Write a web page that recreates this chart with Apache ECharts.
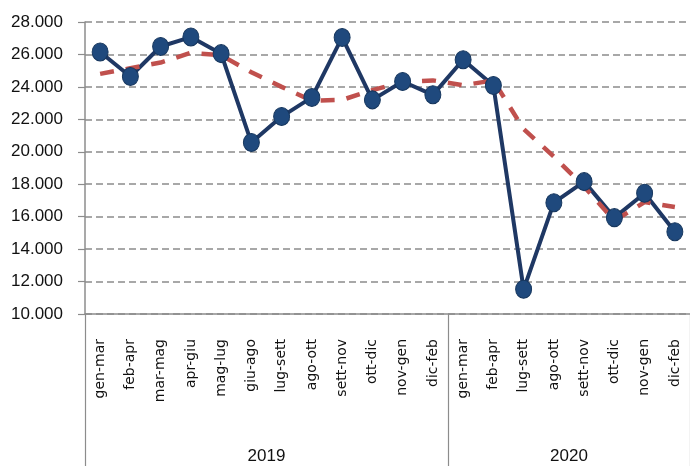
<!DOCTYPE html>
<html>
<head>
<meta charset="utf-8">
<script src="https://cdn.jsdelivr.net/npm/echarts@6/dist/echarts.min.js"></script>
<style>
  html, body { margin: 0; padding: 0; background: #fff; }
  #chart { width: 690px; height: 466px; }
</style>
</head>
<body>
<div id="chart"></div>
<script>
const periods = ['gen-mar', 'feb-apr', 'mar-mag', 'apr-giu', 'mag-lug', 'giu-ago', 'lug-sett', 'ago-ott', 'sett-nov', 'ott-dic', 'nov-gen', 'dic-feb',
  'gen-mar', 'feb-apr', 'lug-sett', 'ago-ott', 'sett-nov', 'ott-dic', 'nov-gen', 'dic-feb']
const years = ['2019', '2020']
const periodsPerYear = [12, 8]

const values = [26150, 24640, 26490, 27070, 26050, 20570, 22170, 23350, 27050, 23200, 24330, 23510,
  25670, 24090, 11520, 16860, 18160, 15940, 17440, 15070]
const trend = [24800, 25150, 25500, 26100, 25950, 24900, 24000, 23150, 23200, 23800, 24300, 24400,
  24100, 24400, 21400, 19700, 17850, 15750, 16900, 16600]

const yTicks = { min: 10000, max: 28000, step: 2000 }

// year axis: one slot per boundary, year name in the middle of its block
const yearSlots = new Array(periods.length + 1).fill('')
const yearBounds = [0]
const yearCenters = []
let pos = 0
periodsPerYear.forEach((n, i) => {
  yearCenters.push(pos + n / 2)
  pos += n
  yearBounds.push(pos)
})
yearCenters.forEach((c, i) => { yearSlots[c] = years[i] })

const gray = '#8c8c8c'
const txt = '#111'

const chart = echarts.init(document.getElementById('chart'))
chart.setOption({
  animation: false,
  grid: { left: 85, top: 22, bottom: 152, width: 608, containLabel: false },
  xAxis: [
    {
      type: 'category',
      data: periods,
      boundaryGap: true,
      axisLine: { lineStyle: { color: gray, width: 1.5 } },
      axisTick: { interval: 0, length: 106, lineStyle: { color: gray, width: 1.2 } },
      axisLabel: {
        interval: 0, rotate: 90, margin: 25,
        fontFamily: 'DejaVu Sans', fontSize: 14, color: txt
      }
    },
    {
      type: 'category',
      data: yearSlots,
      boundaryGap: false,
      position: 'bottom',
      axisLine: { show: false },
      axisTick: {
        interval: (i) => yearBounds.indexOf(i) >= 0,
        length: 152,
        lineStyle: { color: gray, width: 1.2 }
      },
      axisLabel: {
        interval: (i) => yearCenters.indexOf(i) >= 0,
        margin: 134,
        fontFamily: 'Liberation Sans', fontSize: 17, color: txt
      }
    }
  ],
  yAxis: {
    type: 'value',
    min: yTicks.min, max: yTicks.max, interval: yTicks.step,
    axisLine: { show: true, lineStyle: { color: gray, width: 1.5 } },
    axisTick: { show: true, length: 7, lineStyle: { color: gray, width: 1.2 } },
    axisLabel: {
      margin: 22, fontFamily: 'Liberation Sans', fontSize: 17, color: txt,
      formatter: (v) => (v / 1000).toFixed(3)
    },
    splitLine: { lineStyle: { color: gray, width: 1.5, type: [7, 4] } }
  },
  series: [
    {
      type: 'line',
      data: values,
      symbol: 'circle',
      symbolSize: [16, 18],
      lineStyle: { color: '#1F3864', width: 4 },
      itemStyle: { color: '#1F497D', borderColor: '#17375E', borderWidth: 1 }
    },
    {
      type: 'line',
      data: trend,
      symbol: 'none',
      lineStyle: { color: '#C0504D', width: 4.5, type: [14, 12] }
    }
  ]
})
</script>
</body>
</html>
